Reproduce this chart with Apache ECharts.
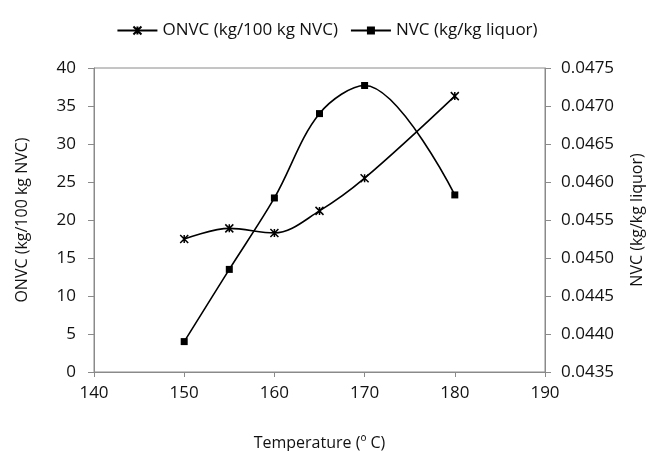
<!DOCTYPE html>
<html><head><meta charset="utf-8">
<script src="https://cdn.jsdelivr.net/npm/echarts@6/dist/echarts.min.js"></script>
<style>html,body{margin:0;padding:0;background:#fff}#c{width:654px;height:451px}</style>
</head><body><div id="c"></div>
<script>
const temps = [150, 155, 160, 165, 170, 180];
const onvc = [17.5, 18.9, 18.3, 21.2, 25.5, 36.3];
const nvc = [0.0439, 0.04485, 0.04579, 0.0469, 0.04727, 0.04583];
const onvcName = 'ONVC (kg/100 kg NVC)';
const nvcName = 'NVC (kg/kg liquor)';
const xName = 'Temperature (º C)';

const font = '"Open Sans", Lato, sans-serif';
const axisColor = '#8a8a8a';
const starPath = 'path://M0,0L10,10M10,0L0,10M5,0L5,10';

const chart = echarts.init(document.getElementById('c'));
chart.setOption({
  animation: false,
  backgroundColor: '#fff',
  textStyle: { fontFamily: font },
  legend: {
    top: 17, left: 'center', itemGap: 12, itemWidth: 40, itemHeight: 10,
    textStyle: { fontSize: 17, color: '#111', fontFamily: font },
    data: [onvcName, nvcName]
  },
  grid: { left: 94, right: 109, top: 68, bottom: 79, outerBoundsMode: 'none', containLabel: false,
          show: true, borderColor: axisColor, borderWidth: 1 },
  xAxis: {
    type: 'value', min: 140, max: 190, interval: 10,
    name: xName, nameLocation: 'middle', nameGap: 63,
    nameTextStyle: { fontSize: 16, color: '#111', fontFamily: font },
    axisLine: { show: true, lineStyle: { color: axisColor } },
    axisTick: { show: true, length: 5, inside: false, lineStyle: { color: axisColor } },
    axisLabel: { fontSize: 17, color: '#111', margin: 13 },
    splitLine: { show: false }
  },
  yAxis: [{
    type: 'value', min: 0, max: 40, interval: 5, position: 'left',
    name: onvcName, nameLocation: 'middle', nameGap: 64, nameRotate: 90,
    nameTextStyle: { fontSize: 16, color: '#111', fontFamily: font },
    axisLine: { show: true, lineStyle: { color: axisColor } },
    axisTick: { show: true, length: 6, lineStyle: { color: axisColor } },
    axisLabel: { fontSize: 17, color: '#111', margin: 18 },
    splitLine: { show: false }
  }, {
    type: 'value', min: 0.0435, max: 0.0475, interval: 0.0005, position: 'right',
    name: nvcName, nameLocation: 'middle', nameGap: 84, nameRotate: 90,
    nameTextStyle: { fontSize: 16, color: '#111', fontFamily: font },
    axisLine: { show: true, lineStyle: { color: axisColor } },
    axisTick: { show: true, length: 6, lineStyle: { color: axisColor } },
    axisLabel: { fontSize: 17, color: '#111', margin: 16, formatter: v => v.toFixed(4) },
    splitLine: { show: false }
  }],
  series: [{
    name: onvcName, type: 'line', yAxisIndex: 0, smooth: 0.35,
    data: temps.map((t, i) => [t, onvc[i]]),
    symbol: starPath, symbolSize: 8,
    lineStyle: { color: '#000', width: 1.6 },
    itemStyle: { color: '#000', borderColor: '#000', borderWidth: 1.5 }
  }, {
    name: nvcName, type: 'line', yAxisIndex: 1, smooth: 0.35,
    data: temps.map((t, i) => [t, nvc[i]]),
    symbol: 'rect', symbolSize: 7,
    lineStyle: { color: '#000', width: 1.6 },
    itemStyle: { color: '#000' }
  }]
});
</script></body></html>
